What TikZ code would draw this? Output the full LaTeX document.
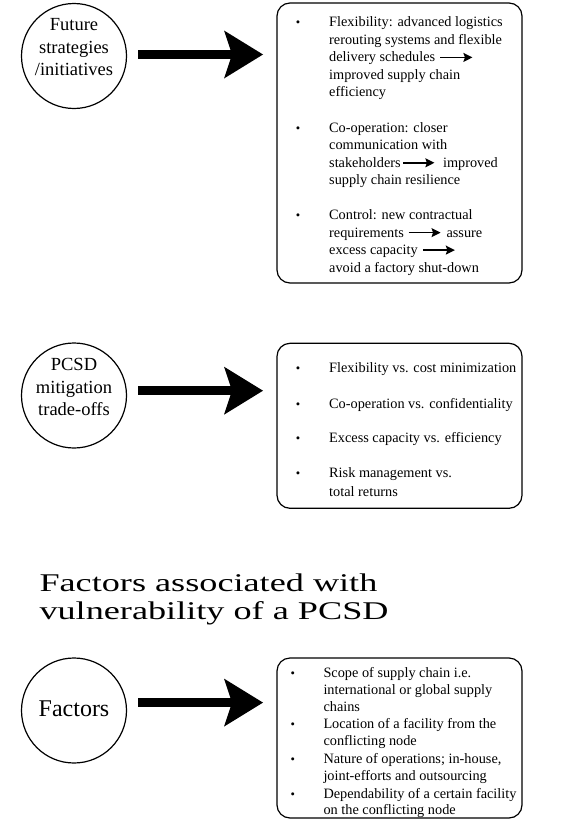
\documentclass[tikz,border=0pt]{standalone}
\usepackage{fontspec}
\setmainfont{Liberation Serif}
\newfontfamily\headfont[FakeStretch=1.42]{Liberation Serif}
\usetikzlibrary{arrows.meta}

% small in-line arrow used inside the bullet texts
\newcommand\inarrow[1][32pt]{\tikz[baseline=-4.4pt]\draw[line width=1.4pt,-{Stealth[length=9pt,width=9pt,inset=1.5pt]}] (0pt,0pt) -- (#1,0pt);}

\begin{document}
\begin{tikzpicture}[x=1pt,y=-1pt,
  ring/.style={circle,draw,line width=1.2pt,minimum size=105pt,inner sep=0pt},
  panel/.style={draw,line width=1.2pt,rounded corners=13pt,inner sep=0pt},
  bigarrow/.style={line width=8.6pt,
    -{Stealth[length=39pt,width=48pt,inset=8pt,line width=0pt]},
    shorten <=11pt,shorten >=13.4pt},
  ln/.style={anchor=base west,inner sep=0pt,font=\fontsize{14.3}{17.5}\selectfont},
  dot/.style={anchor=base,inner sep=0pt,font=\fontsize{12.5}{13}\selectfont},
  ctext/.style={anchor=base,inner sep=0pt,font=\fontsize{18.5}{22.5}\selectfont},
  title/.style={anchor=base west,inner sep=0pt,font=\headfont\fontsize{25.5}{28}\selectfont},
]
\useasboundingbox (0,0) rectangle (563,819);

% ---------- future strategies ----------
\node[ring] (c1) at (74,56) {};
\node[ctext] (c1a) at (74,30.5) {Future};
\node[ctext] (c1b) at (74,53) {strategies};
\node[ctext] (c1c) at (74,75.5) {/initiatives};

\node[panel,minimum width=245pt,minimum height=280pt] (b1) at (399.5,143) {};
\coordinate (a1) at (0,54.5);
\draw[bigarrow] (c1.east |- a1) -- (b1.west |- a1);

\node[dot] (d11) at (298,26.8) {•};
\node[ln] (l11) at (329,26.8) {Flexibility: advanced logistics};
\node[ln] (l12) at (329,44.3) {rerouting systems and flexible};
\node[ln] (l13) at (329,61.8) {delivery schedules\hspace{4.5pt}\inarrow};
\node[ln] (l14) at (329,79.3) {improved supply chain};
\node[ln] (l15) at (329,96.8) {efficiency};

\node[dot] (d12) at (298,132.2) {•};
\node[ln] (l21) at (329,132.2) {Co-operation: closer};
\node[ln] (l22) at (329,149.7) {communication with};
\node[ln] (l23) at (329,167.2) {stakeholders\hspace{2pt}\inarrow[31pt]\hspace{8pt}improved};
\node[ln] (l24) at (329,184.7) {supply chain resilience};

\node[dot] (d13) at (298,219.5) {•};
\node[ln] (l31) at (329,219.5) {Control: new contractual};
\node[ln] (l32) at (329,237) {requirements\hspace{4pt}\inarrow\hspace{5.3pt}assure};
\node[ln] (l33) at (329,254.5) {excess capacity\hspace{4.4pt}\inarrow};
\node[ln] (l34) at (329,272) {avoid a factory shut-down};

% ---------- mitigation trade-offs ----------
\node[ring] (c2) at (74,395.5) {};
\node[ctext] (c2a) at (74,370) {PCSD};
\node[ctext] (c2b) at (74,393) {mitigation};
\node[ctext] (c2c) at (74,415.5) {trade-offs};

\node[panel,minimum width=245pt,minimum height=165pt] (b2) at (399.5,425.8) {};
\coordinate (a2) at (0,390.7);
\draw[bigarrow] (c2.east |- a2) -- (b2.west |- a2);

\node[dot] (d21) at (298,372.8) {•};
\node[ln] (m1) at (329,372.8) {Flexibility vs. cost minimization};
\node[dot] (d22) at (298,408.5) {•};
\node[ln] (m2) at (329,408.5) {Co-operation vs. confidentiality};
\node[dot] (d23) at (298,442.8) {•};
\node[ln] (m3) at (329,442.8) {Excess capacity vs. efficiency};
\node[dot] (d24) at (298,477.8) {•};
\node[ln] (m4) at (329,477.8) {Risk management vs.};
\node[ln] (m5) at (329,496.2) {total returns};

% ---------- vulnerability factors ----------
\node[title] (h1) at (39.3,591) {Factors associated with};
\node[title] (h2) at (39.3,619) {vulnerability of a PCSD};

\node[ring] (c3) at (74,710.5) {};
\node[anchor=base,inner sep=0pt,font=\fontsize{24}{28}\selectfont] (c3a) at (74,716.5) {Factors};

\node[panel,minimum width=245pt,minimum height=160pt] (b3) at (399.5,738) {};
\coordinate (a3) at (0,702.6);
\draw[bigarrow] (c3.east |- a3) -- (b3.west |- a3);

\node[dot] (d31) at (292.7,677.2) {•};
\node[ln] (f1) at (323.3,677.2) {Scope of supply chain i.e.};
\node[ln] (f2) at (323.3,694.7) {international or global supply};
\node[ln] (f3) at (323.3,711.7) {chains};
\node[dot] (d32) at (292.7,728.8) {•};
\node[ln] (f4) at (323.3,728.8) {Location of a facility from the};
\node[ln] (f5) at (323.3,745.8) {conflicting node};
\node[dot] (d33) at (292.7,763.2) {•};
\node[ln] (f6) at (323.3,763.2) {Nature of operations; in-house,};
\node[ln] (f7) at (323.3,780.4) {joint-efforts and outsourcing};
\node[dot] (d34) at (292.7,798) {•};
\node[ln] (f8) at (323.3,798) {Dependability of a certain facility};
\node[ln] (f9) at (323.3,814.5) {on the conflicting node};
\end{tikzpicture}
\end{document}
